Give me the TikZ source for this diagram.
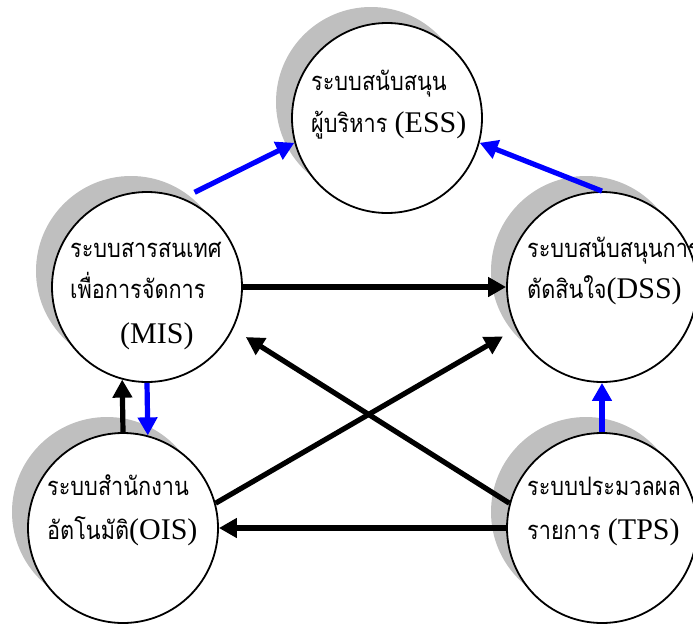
\documentclass[tikz,border=0pt]{standalone}
\usepackage{fontspec}
\setmainfont{Liberation Serif}
\newfontfamily\thaifont[Script=Thai,FakeStretch=0.85]{Loma}
\usetikzlibrary{arrows.meta,shadows}

\newcommand{\thx}[1]{{\thaifont\fontsize{25.5}{25.5}\selectfont #1}}

\tikzset{
  sys/.style={circle, draw, line width=1.8pt, fill=white, minimum size=190pt, inner sep=0pt,
    drop shadow={shadow xshift=-16pt, shadow yshift=16pt, fill=black!25, opacity=1}},
  txt/.style={anchor=base west, inner sep=0pt, font=\fontsize{30}{30}\selectfont},
  flow/.style={line width=5.2pt, -{Triangle[length=18pt,width=19pt]}},
  bflow/.style={flow, blue},
}

\begin{document}
\begin{tikzpicture}[x=1pt,y=-1pt]
\useasboundingbox (0,0) rectangle (693,624);

\node[sys] (ESS) at (387,118) {};
\node[sys] (MIS) at (147,287) {};
\node[sys] (DSS) at (602,287) {};
\node[sys] (OIS) at (123,528) {};
\node[sys] (TPS) at (602,528) {};

\node[txt] (ess1) at (311,90) {\thx{ระบบสนับสนุน}};
\node[txt] (ess2) at (311,132) {\thx{ผู้บริหาร }(ESS)};
\node[txt] (mis1) at (70,257) {\thx{ระบบสารสนเทศ}};
\node[txt] (mis2) at (70,298) {\thx{เพื่อการจัดการ}};
\node[txt] (mis3) at (120,343) {(MIS)};
\node[txt] (dss1) at (527,257) {\thx{ระบบสนับสนุนการ}};
\node[txt] (dss2) at (527,298) {\thx{ตัดสินใจ}(DSS)};
\node[txt] (ois1) at (47,495) {\thx{ระบบสำนักงาน}};
\node[txt] (ois2) at (47,539) {\thx{อัตโนมัติ}(OIS)};
\node[txt] (tps1) at (527,495) {\thx{ระบบประมวลผล}};
\node[txt] (tps2) at (527,539) {\thx{รายการ }(TPS)};

\draw[bflow, shorten <=13pt] (MIS.68) -- (ESS.195);
\draw[bflow] (DSS.90) -- (ESS.-15);
\draw[flow] (MIS.east) -- (DSS.west);
\draw[flow, shorten >=15pt] (TPS.165) -- (MIS.-26);
\draw[flow, shorten >=15pt] (OIS.15) -- (DSS.206);
\draw[flow] (TPS.west) -- (OIS.east);
\draw[flow] (OIS.90) -- (MIS.255);
\draw[bflow] (MIS.south) -- (OIS.75);
\draw[bflow] (TPS.north) -- (DSS.south);
\end{tikzpicture}
\end{document}
